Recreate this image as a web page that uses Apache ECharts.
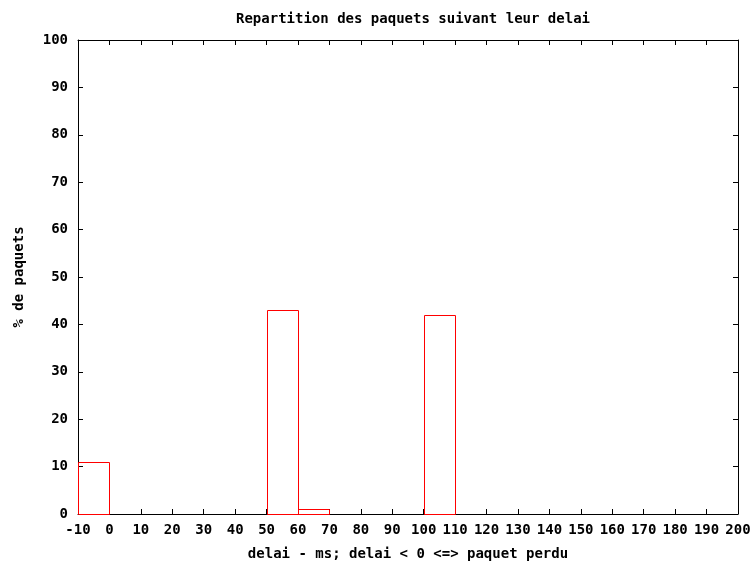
<!DOCTYPE html>
<html><head><meta charset="utf-8">
<script src="https://cdn.jsdelivr.net/npm/echarts@6/dist/echarts.min.js"></script>
<style>html,body{margin:0;padding:0;background:#fff}#c{width:755px;height:566px}</style>
</head><body><div id="c"></div>
<script>
const binStart = [-10, 50, 60, 100];
const binEnd = [0, 60, 70, 110];
const percent = [11, 43, 1, 42];
const titleText = 'Repartition des paquets suivant leur delai';
const xLabel = 'delai - ms; delai < 0 <=> paquet perdu';
const yLabel = '% de paquets';

const font = 'DejaVu Sans Mono';
const data = binStart.map((s, i) => [s, binEnd[i], percent[i]]);
const chart = echarts.init(document.getElementById('c'), null, {renderer: 'canvas'});
function axisCommon() {
  return {
    axisLine: {show: true, onZero: false, lineStyle: {color: '#000', width: 1}},
    axisTick: {show: true, inside: true, length: 5, lineStyle: {color: '#000'}},
    splitLine: {show: false}
  };
}
const labelStyle = {fontFamily: font, fontWeight: 'bold', fontSize: 14, color: '#000'};
chart.setOption({
  animation: false,
  title: {text: titleText, left: 408, top: 7, textAlign: 'center', textStyle: labelStyle},
  grid: {left: 78, right: 17, top: 40, bottom: 51, containLabel: false},
  xAxis: [
    Object.assign({type: 'value', min: -10, max: 200, interval: 10, position: 'bottom',
      name: xLabel, nameLocation: 'middle', nameGap: 33, nameTextStyle: labelStyle,
      axisLabel: Object.assign({margin: 9, showMinLabel: true, showMaxLabel: true}, labelStyle)}, axisCommon()),
    Object.assign({type: 'value', min: -10, max: 200, interval: 10, position: 'top', axisLabel: {show: false}}, axisCommon())
  ],
  yAxis: [
    Object.assign({type: 'value', min: 0, max: 100, interval: 10, position: 'left',
      name: yLabel, nameLocation: 'middle', nameGap: 52, nameRotate: 90, nameTextStyle: labelStyle,
      axisLabel: Object.assign({margin: 10}, labelStyle)}, axisCommon()),
    Object.assign({type: 'value', min: 0, max: 100, interval: 10, position: 'right', axisLabel: {show: false}}, axisCommon())
  ],
  series: [{
    type: 'custom',
    xAxisIndex: 0, yAxisIndex: 0,
    z: 10,
    data: data,
    renderItem: function (params, api) {
      const p0 = api.coord([api.value(0), api.value(2)]);
      const p1 = api.coord([api.value(1), 0]);
      return {type: 'rect', z2: 10,
        shape: {x: Math.round(p0[0]) + 0.5, y: Math.round(p0[1]) + 0.5,
          width: Math.round(p1[0]) - Math.round(p0[0]), height: Math.round(p1[1]) - Math.round(p0[1])},
        style: {fill: 'none', stroke: '#ff0000', lineWidth: 1}};
    }
  }]
});
</script></body></html>
